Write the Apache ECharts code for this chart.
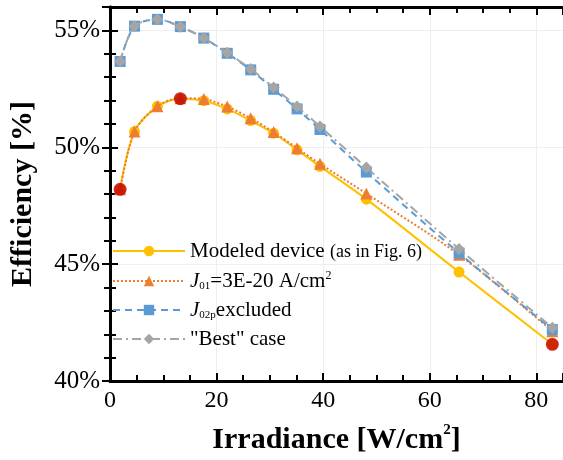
<!DOCTYPE html>
<html><head><meta charset="utf-8">
<script src="https://cdn.jsdelivr.net/npm/echarts@6/dist/echarts.min.js"></script>
<style>html,body{margin:0;padding:0;background:#fff}#c{width:563px;height:460px}</style>
</head><body><div id="c"></div>
<script>
var irradiance = [1.9, 4.6, 8.9, 13.2, 17.6, 22.0, 26.4, 30.7, 35.1, 39.4, 48.1, 65.5, 83.0];
var modeled    = [48.20, 50.67, 51.75, 52.08, 51.99, 51.64, 51.14, 50.60, 49.89, 49.18, 47.78, 44.66, 41.57];
var j01        = [48.20, 50.67, 51.75, 52.10, 52.06, 51.74, 51.24, 50.65, 49.96, 49.29, 48.02, 45.40, 42.13];
var j02p       = [53.67, 55.18, 55.47, 55.16, 54.67, 54.02, 53.31, 52.48, 51.64, 50.76, 48.94, 45.47, 42.20];
var best       = [53.67, 55.18, 55.47, 55.16, 54.67, 54.04, 53.35, 52.56, 51.74, 50.89, 49.13, 45.65, 42.28];
var highlightIdx = [0, 3, 12];
var seriesNames = ['Modeled device (as in Fig. 6)', 'J01=3E-20 A/cm2', 'J02p excluded', '"Best" case'];
var yTicks = [40, 45, 50, 55];

function pairs(ys){ return irradiance.map(function(x,i){ return [x, ys[i]]; }); }
var FONT = '"Liberation Serif", "Times New Roman", serif';
var chart = echarts.init(document.getElementById('c'), null, {renderer:'canvas'});
var LINE = {show:true, lineStyle:{color:'#000', width:3}};
var TICK = {show:true, inside:true, length:8, lineStyle:{color:'#000', width:2}};
function minor(n){ return {show:true, splitNumber:n, length:6, lineStyle:{color:'#000', width:2}}; }
var option = {
  animation:false,
  backgroundColor:'#fff',
  grid:{left:110, right:-2, top:7, bottom:77},
  xAxis:[{
    type:'value', min:0, max:85, interval:20,
    axisLine:LINE, axisTick:TICK, minorTick:minor(4),
    axisLabel:{color:'#000', fontFamily:FONT, fontSize:24, margin:8, showMaxLabel:false},
    splitLine:{show:true, lineStyle:{color:'#eeeeee', width:1}},
    name:'{b|Irradiance [W/cm}{s|2}{b|]}',
    nameLocation:'middle', nameGap:42,
    nameTextStyle:{rich:{
      b:{fontFamily:FONT, fontWeight:'bold', fontSize:30, color:'#000', lineHeight:32, verticalAlign:'bottom'},
      s:{fontFamily:FONT, fontWeight:'bold', fontSize:15, color:'#000', lineHeight:30, verticalAlign:'top'}
    }}
  },{
    type:'value', position:'top', min:0, max:85, interval:20,
    axisLine:LINE, axisTick:TICK, minorTick:minor(4),
    axisLabel:{show:false}, splitLine:{show:false}
  }],
  yAxis:[{
    type:'value', min:40, max:56, interval:5,
    axisLine:LINE, axisTick:TICK, minorTick:minor(5),
    axisLabel:{color:'#000', fontFamily:FONT, fontSize:25, margin:10, showMaxLabel:false,
      formatter:function(v){ return yTicks.indexOf(v) >= 0 ? v + '%' : ''; }},
    splitLine:{show:true, lineStyle:{color:'#eeeeee', width:1}},
    name:'Efficiency [%]', nameLocation:'middle', nameGap:72,
    nameTextStyle:{fontFamily:FONT, fontWeight:'bold', fontSize:30, color:'#000'}
  },{
    type:'value', position:'right', min:40, max:56, interval:5,
    axisLine:LINE, axisTick:TICK, minorTick:minor(5),
    axisLabel:{show:false}, splitLine:{show:false}
  }],
  legend:{
    data:seriesNames, orient:'vertical', left:107, top:236,
    itemWidth:72, itemHeight:13, itemGap:8,
    formatter:function(n){
      if(n===seriesNames[0]) return '{m|Modeled device }{sm|(as in Fig. 6)}';
      if(n===seriesNames[1]) return '{i|J}{sub|01}{m|=3E-20 A/cm}{sup|2}';
      if(n===seriesNames[2]) return '{i|J}{sub|02p}{m|excluded}';
      return '{m|"Best" case}';
    },
    textStyle:{fontFamily:FONT, fontSize:21, color:'#000', rich:{
      m:{fontFamily:FONT, fontSize:21, color:'#000', lineHeight:22, verticalAlign:'bottom'},
      sm:{fontFamily:FONT, fontSize:18, color:'#000', lineHeight:21, padding:[0,0,1,0], verticalAlign:'bottom'},
      i:{fontFamily:FONT, fontSize:21, fontStyle:'italic', color:'#000', lineHeight:22, verticalAlign:'bottom'},
      sub:{fontFamily:FONT, fontSize:11, color:'#000', lineHeight:12, verticalAlign:'bottom'},
      sup:{fontFamily:FONT, fontSize:12, color:'#000', lineHeight:8, verticalAlign:'top'}
    }}
  },
  series:[
    {name:seriesNames[0], type:'line', data:pairs(modeled), smooth:0.3, symbol:'circle', symbolSize:11,
     itemStyle:{color:'#FFC000'}, lineStyle:{color:'#FFC000', width:2, type:'solid'}, z:2},
    {name:seriesNames[1], type:'line', data:pairs(j01), smooth:0.3, symbol:'triangle', symbolSize:12,
     itemStyle:{color:'#ED7D31'}, lineStyle:{color:'#ED7D31', width:2, type:[2,2]}, z:3},
    {name:seriesNames[2], type:'line', data:pairs(j02p), smooth:0.3, symbol:'rect', symbolSize:11,
     itemStyle:{color:'#5B9BD5'}, lineStyle:{color:'#5B9BD5', width:2, type:[7,5]}, z:4},
    {name:seriesNames[3], type:'line', data:pairs(best), smooth:0.3, symbol:'diamond', symbolSize:12,
     itemStyle:{color:'#A5A5A5'}, lineStyle:{color:'#A5A5A5', width:2, type:[9,4,2,4]}, z:5},
    {name:'highlight', type:'scatter', data:highlightIdx.map(function(i){return [irradiance[i], modeled[i]];}),
     symbol:'circle', symbolSize:13, itemStyle:{color:'#C00000'}, z:10}
  ]
};
chart.setOption(option);
</script></body></html>
